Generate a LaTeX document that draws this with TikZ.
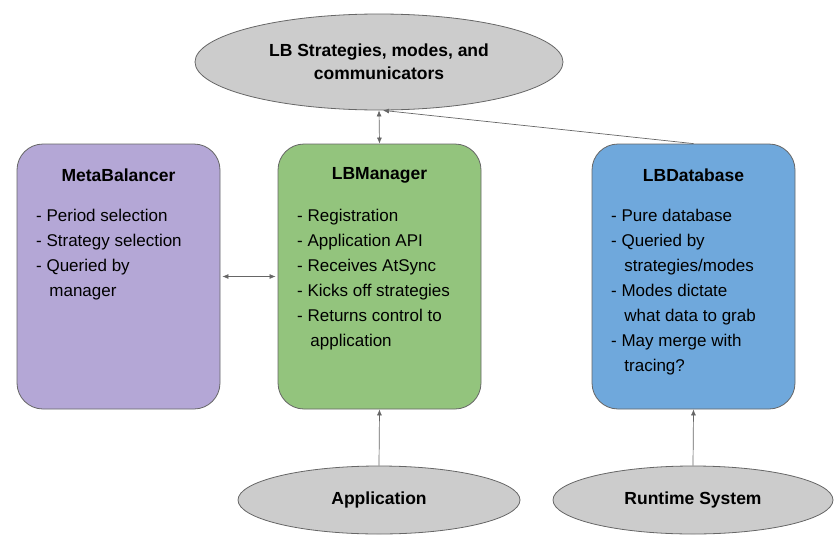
\documentclass[tikz,border=0pt]{standalone}
\usepackage{fontspec}
\setmainfont{Liberation Sans}
\usetikzlibrary{shapes.geometric,arrows.meta}
\definecolor{metafill}{HTML}{B4A7D6}
\definecolor{mgrfill}{HTML}{93C47D}
\definecolor{dbfill}{HTML}{6FA8DC}
\definecolor{ovalfill}{HTML}{CCCCCC}
\definecolor{edge}{HTML}{666666}
\tikzset{
  x=1pt, y=-1pt,
  panel/.style={draw=edge, line width=0.8pt, rounded corners=26pt,
    minimum width=203pt, minimum height=265pt, inner sep=0pt},
  oval/.style={ellipse, draw=edge, line width=0.8pt, fill=ovalfill,
    inner sep=0pt, font=\bfseries\fontsize{17.5}{23}\selectfont, align=center},
  paneltitle/.style={font=\bfseries\fontsize{17.5}{21}\selectfont, anchor=center},
  bullets/.style={font=\fontsize{17}{25}\selectfont, align=left, anchor=north west, inner sep=0pt},
  link/.style={draw=edge, line width=0.7pt, arrows={-Latex[length=6pt,width=5pt]}},
  twoway/.style={draw=edge, line width=0.7pt, arrows={Latex[length=6pt,width=5pt]-Latex[length=6pt,width=5pt]}}
}
\newcommand{\cont}{\hphantom{- }\,}
\begin{document}
\begin{tikzpicture}
\useasboundingbox (0,0) rectangle (835,546);

% top oval
\node[oval, minimum width=368pt, minimum height=96pt] (strat) at (379,62)
  {LB Strategies, modes, and\\communicators};

% three panels
\node[panel, fill=metafill] (meta) at (118.5,276.5) {};
\node[panel, fill=mgrfill]  (mgr)  at (379.5,276.5) {};
\node[panel, fill=dbfill]   (db)   at (693.5,276.5) {};

\node[paneltitle] (metaT) at (118.5,175) {MetaBalancer};
\node[paneltitle] (mgrT)  at (379.5,175) {LBManager};
\node[paneltitle] (dbT)   at (693.5,175) {LBDatabase};

\node[bullets] (metaB) at (36,209)
  {- Period selection\\- Strategy selection\\- Queried by\\\cont manager};
\node[bullets] (mgrB) at (297,209)
  {- Registration\\- Application API\\- Receives AtSync\\- Kicks off strategies\\- Returns control to\\\cont application};
\node[bullets] (dbB) at (611,209)
  {- Pure database\\- Queried by\\\cont strategies/modes\\- Modes dictate\\\cont what data to grab\\- May merge with\\\cont tracing?};

% bottom ovals
\node[oval, minimum width=282pt, minimum height=68pt] (app) at (379,500) {Application};
\node[oval, minimum width=280pt, minimum height=68pt] (rts) at (693,500) {Runtime System};

% connectors
\draw[twoway] (strat.south) -- (mgr.north);
\draw[link] (db.north) -- ([xshift=4pt]strat.south);
\draw[twoway] ([xshift=2pt]meta.east) -- ([xshift=-2pt]mgr.west);
\draw[link] (app.north) -- (mgr.south);
\draw[link] (rts.north) -- (db.south);
\end{tikzpicture}
\end{document}
